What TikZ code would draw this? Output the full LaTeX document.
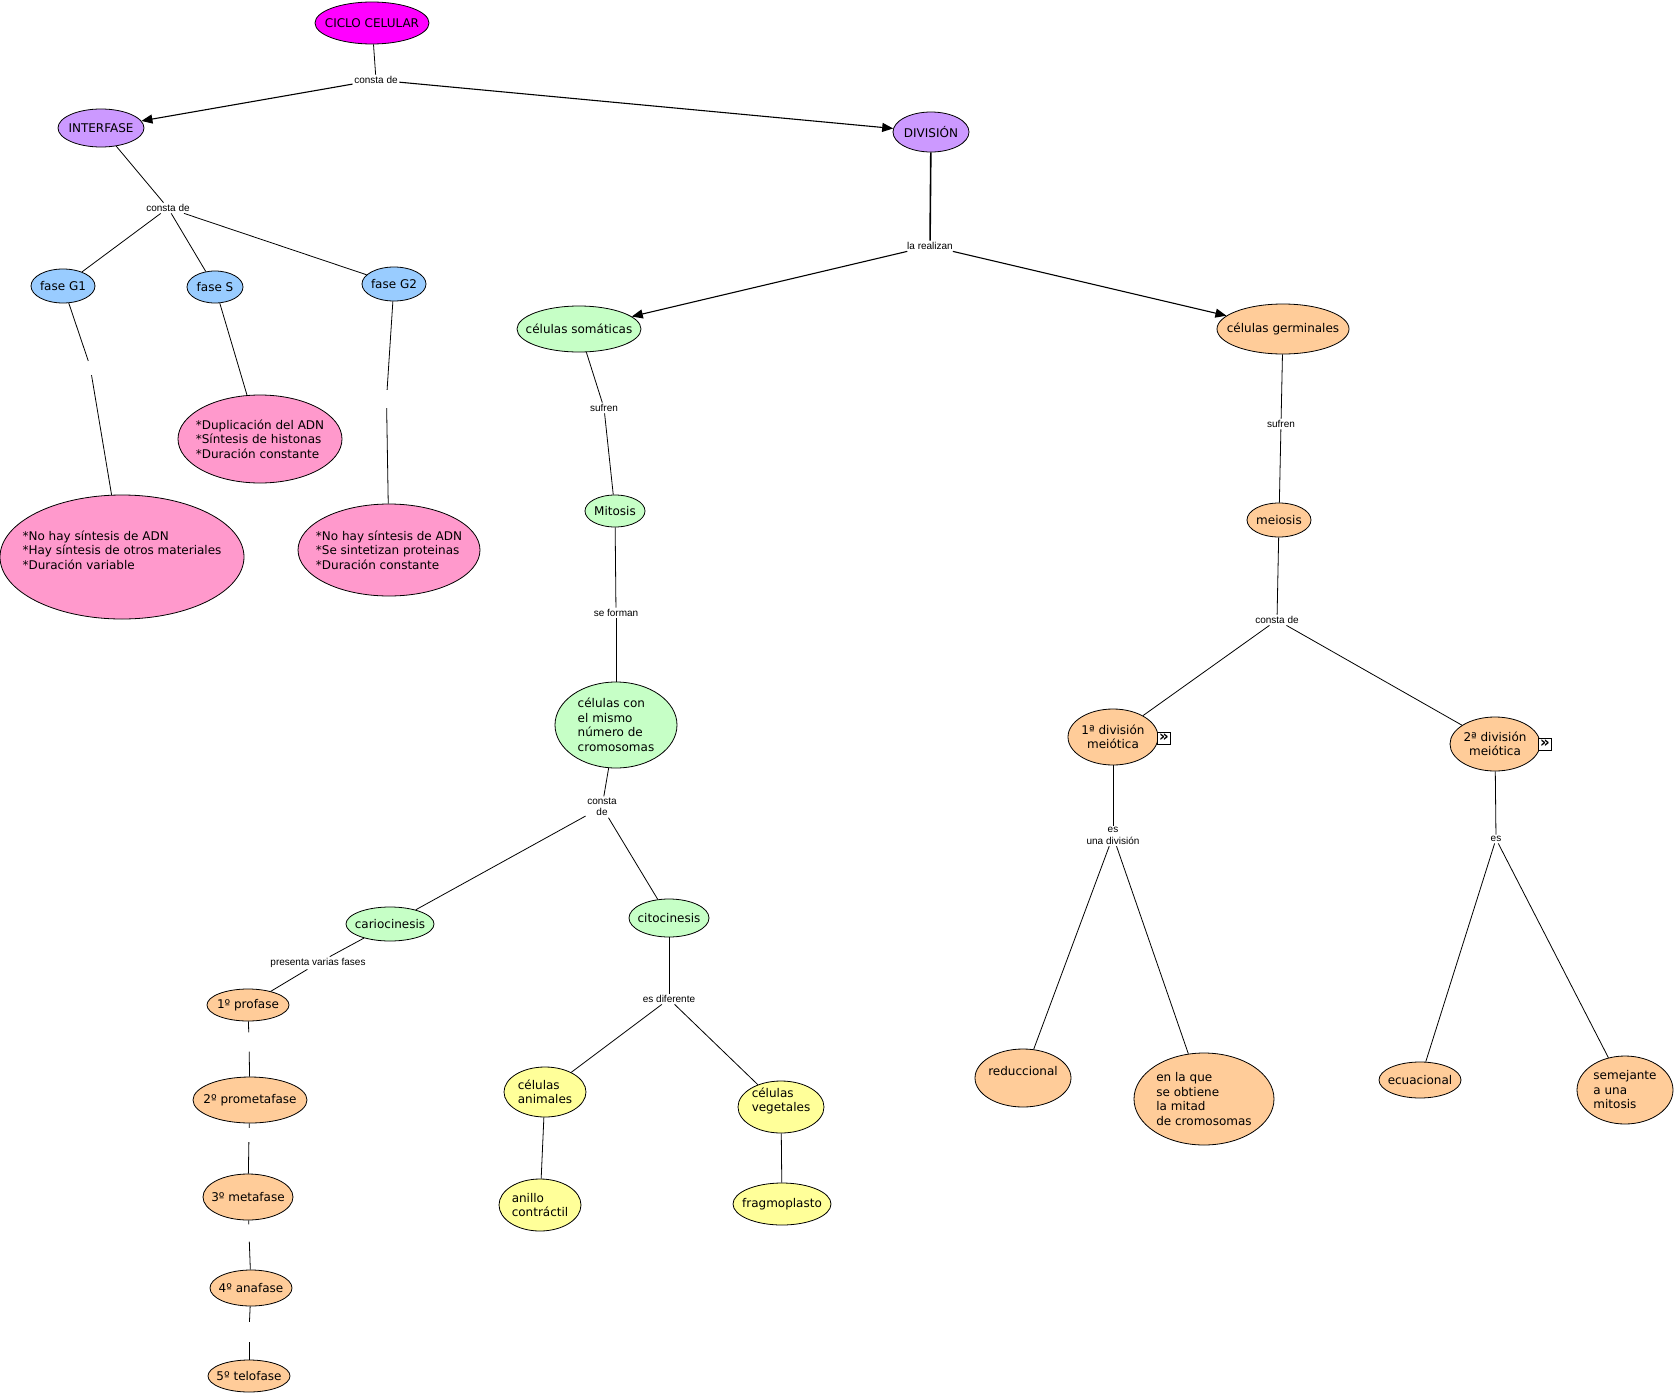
\documentclass[tikz,border=0pt]{standalone}
\usepackage{fontspec}
\setmainfont{DejaVu Sans}
\newfontfamily\lblfont{Liberation Sans}
\usetikzlibrary{arrows.meta,shapes.geometric}
\definecolor{cmag}{HTML}{FF00FF}
\definecolor{cpur}{HTML}{CC99FF}
\definecolor{cblu}{HTML}{99CCFF}
\definecolor{cpnk}{HTML}{FF99CC}
\definecolor{cgrn}{HTML}{C6FFC6}
\definecolor{corg}{HTML}{FFCC99}
\definecolor{cyel}{HTML}{FFFF99}
\tikzset{
  ell/.style={draw=black, line width=0.8pt, ellipse, inner sep=0pt},
  txt/.style={align=left, inner sep=0pt, font=\fontsize{12}{14.5}\selectfont, text=black},
  lbl/.style={inner sep=1.5pt, align=center, font=\lblfont\fontsize{10}{11.5}\selectfont, text=black},
  gapnode/.style={inner sep=0pt, minimum width=3pt},
  conn/.style={line width=0.8pt},
  arr/.style={line width=1.1pt, -{Triangle[length=11pt,width=9pt]}},
  icon/.style={draw=black, fill=white, line width=0.7pt, minimum width=13pt, minimum height=12pt, inner sep=0pt, font=\bfseries\fontsize{15}{15}\selectfont},
}
\newcommand\mapnode[8]{%
  \node[ell, fill=#6, minimum width=2*#4, minimum height=2*#5] (#1) at (#2,#3) {};
  \node[txt,#8] (#1t) at (#2,#3) {#7};}
\begin{document}
\begin{tikzpicture}[x=1pt,y=-1pt]
\useasboundingbox (0,0) rectangle (1674,1400);
\fill[white] (0,0) rectangle (1674,1400);

% ---- concept nodes ----
\mapnode{ciclo}{372}{23}{57}{21}{cmag}{CICLO CELULAR}{}
\mapnode{inter}{101}{128}{43}{19}{cpur}{INTERFASE}{}
\mapnode{div}{931}{132}{38}{20}{cpur}{DIVISIÓN}{}
\mapnode{g1}{63}{286}{32}{17}{cblu}{fase G1}{}
\mapnode{gs}{215}{287}{28}{16}{cblu}{fase S}{}
\mapnode{g2}{394}{284}{32}{17}{cblu}{fase G2}{}
\mapnode{pga}{122}{557}{122}{62}{cpnk}{*No hay síntesis de ADN\\*Hay síntesis de otros materiales\\*Duración variable}{yshift=7pt}
\mapnode{ps}{260}{439}{82}{44}{cpnk}{*Duplicación del ADN\\*Síntesis de histonas\\*Duración constante}{}
\mapnode{pgb}{389}{550}{91}{46}{cpnk}{*No hay síntesis de ADN\\*Se sintetizan proteinas\\*Duración constante}{}
\mapnode{soma}{579}{329}{62}{23}{cgrn}{células somáticas}{}
\mapnode{germ}{1283}{329}{66}{25}{corg}{células germinales}{}
\mapnode{mito}{615}{511}{30}{16}{cgrn}{Mitosis}{}
\mapnode{mism}{616}{725}{61}{43}{cgrn}{células con\\el mismo\\número de\\cromosomas}{}
\mapnode{mei}{1279}{520}{32}{17}{corg}{meiosis}{}
\mapnode{diva}{1113}{737}{45}{28}{corg}{1ª división\\meiótica}{align=center}
\mapnode{divb}{1495}{744}{45}{27}{corg}{2ª división\\meiótica}{align=center}
\mapnode{cario}{390}{924}{44}{17}{cgrn}{cariocinesis}{}
\mapnode{cito}{669}{918}{40}{19}{cgrn}{citocinesis}{}
\mapnode{pro}{248}{1005}{41}{16}{corg}{1º profase}{}
\mapnode{prometa}{250}{1100}{57}{23}{corg}{2º prometafase}{}
\mapnode{meta}{248}{1197}{45}{23}{corg}{3º metafase}{}
\mapnode{ana}{251}{1288}{41}{18}{corg}{4º anafase}{}
\mapnode{telo}{249}{1376}{41}{16}{corg}{5º telofase}{}
\mapnode{anim}{545}{1092}{41}{25}{cyel}{células\\animales}{}
\mapnode{veg}{781}{1107}{43}{26}{cyel}{células\\vegetales}{yshift=6pt}
\mapnode{anil}{540}{1205}{41}{26}{cyel}{anillo\\contráctil}{}
\mapnode{frag}{782}{1204}{49}{21}{cyel}{fragmoplasto}{}
\mapnode{red}{1023}{1078}{48}{29}{corg}{reduccional}{yshift=7pt}
\mapnode{mitad}{1204}{1099}{70}{46}{corg}{en la que\\se obtiene\\la mitad\\de cromosomas}{}
\mapnode{ecu}{1420}{1080}{41}{18}{corg}{ecuacional}{}
\mapnode{seme}{1625}{1090}{48}{34}{corg}{semejante\\a una\\mitosis}{}

\node[icon] (ica) at (1164,738) {»};
\node[icon] (icb) at (1545,744) {»};

% ---- linking phrases ----
\node[lbl] (l0) at (376,80) {consta de};
\node[lbl] (l1) at (168,208) {consta de};
\node[gapnode, minimum height=18pt] (lg1) at (90,366) {};
\node[gapnode, minimum height=18pt] (lg2) at (386.5,399) {};
\node[lbl] (l2) at (930,246) {la realizan};
\node[lbl] (l3) at (604,408) {sufren};
\node[lbl] (l4) at (616,613) {se forman};
\node[lbl] (l5) at (602,807) {consta\\de};
\node[lbl] (l6) at (318,963) {presenta varias fases};
\node[lbl] (l7) at (669,999) {es diferente};
\node[lbl] (l8) at (1281,424) {sufren};
\node[lbl] (l9) at (1277,620) {consta de};
\node[lbl] (l10) at (1113,836) {es\\una división};
\node[lbl] (l11) at (1496,839) {es};
\node[gapnode, minimum height=19pt] (lp1) at (249,1042) {};
\node[gapnode, minimum height=14pt] (lp2) at (249,1135) {};
\node[gapnode, minimum height=17pt] (lp3) at (249,1233) {};
\node[gapnode, minimum height=20pt] (lp4) at (249,1332) {};

% ---- connectors ----
\draw[conn] (ciclo) -- (l0);
\draw[arr] (l0) -- (inter);
\draw[arr] (l0) -- (div);
\draw[conn] (inter) -- (l1);
\draw[conn] (l1) -- (g1);
\draw[conn] (l1) -- (gs);
\draw[conn] (l1) -- (g2);
\draw[conn] (g1) -- (lg1);
\draw[conn] (lg1) -- (pga);
\draw[conn] (gs) -- (ps);
\draw[conn] (g2) -- (lg2);
\draw[conn] (lg2) -- (pgb);
\draw[line width=1.6pt] (div) -- (l2);
\draw[arr] (l2) -- (soma);
\draw[arr] (l2) -- (germ);
\draw[conn] (soma) -- (l3);
\draw[conn] (l3) -- (mito);
\draw[conn] (mito) -- (l4);
\draw[conn] (l4) -- (mism);
\draw[conn] (mism) -- (l5);
\draw[conn] (l5) -- (cario);
\draw[conn] (l5) -- (cito);
\draw[conn] (cario) -- (l6);
\draw[conn] (l6) -- (pro);
\draw[conn] (pro) -- (lp1);
\draw[conn] (lp1) -- (prometa);
\draw[conn] (prometa) -- (lp2);
\draw[conn] (lp2) -- (meta);
\draw[conn] (meta) -- (lp3);
\draw[conn] (lp3) -- (ana);
\draw[conn] (ana) -- (lp4);
\draw[conn] (lp4) -- (telo);
\draw[conn] (cito) -- (l7);
\draw[conn] (l7) -- (anim);
\draw[conn] (l7) -- (veg);
\draw[conn] (anim) -- (anil);
\draw[conn] (veg) -- (frag);
\draw[conn] (germ) -- (l8);
\draw[conn] (l8) -- (mei);
\draw[conn] (mei) -- (l9);
\draw[conn] (l9) -- (diva);
\draw[conn] (l9) -- (divb);
\draw[conn] (diva) -- (l10);
\draw[conn] (l10) -- (red);
\draw[conn] (l10) -- (mitad);
\draw[conn] (divb) -- (l11);
\draw[conn] (l11) -- (ecu);
\draw[conn] (l11) -- (seme);
\end{tikzpicture}
\end{document}
